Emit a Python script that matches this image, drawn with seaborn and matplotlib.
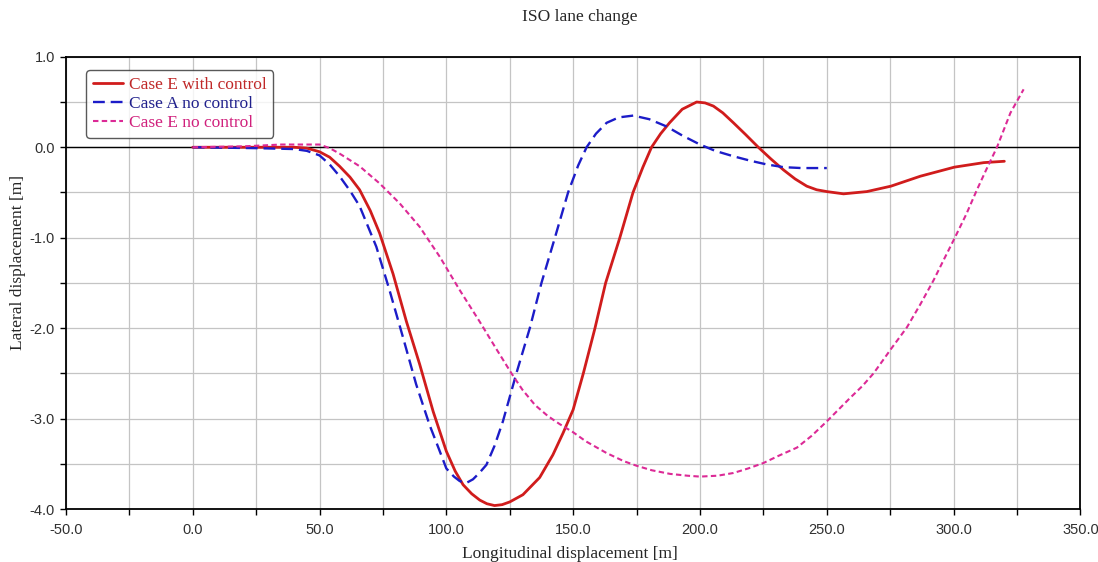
import matplotlib
matplotlib.use("Agg")
import matplotlib.pyplot as plt
import seaborn as sns
from matplotlib.ticker import MultipleLocator, FormatStrFormatter

# ---- data ----
red_x = [0, 20, 40, 45, 50, 54, 57.9, 62, 65.8, 70, 73.7, 79, 84.2, 89.5, 94.8, 100,
         103.5, 106.6, 110, 113.2, 116, 119, 122, 125, 130.2, 136.8, 142, 146, 150,
         154, 158.6, 162.8, 168.4, 173.6, 177.5, 180.9, 184.5, 188, 193, 198.7, 202,
         205.3, 209, 213.2, 218, 223, 228, 232.9, 237.5, 242.1, 246, 250, 256.6,
         265.8, 275.3, 286.9, 300.3, 311.9, 320]
red_y = [0, 0, 0, -0.01, -0.05, -0.11, -0.21, -0.33, -0.47, -0.7, -0.95, -1.4, -1.92,
         -2.4, -2.92, -3.36, -3.58, -3.73, -3.83, -3.9, -3.94, -3.96, -3.95, -3.92,
         -3.84, -3.65, -3.4, -3.16, -2.9, -2.5, -2.0, -1.5, -1.0, -0.5, -0.22, 0.0,
         0.15, 0.27, 0.42, 0.5, 0.49, 0.455, 0.38, 0.27, 0.14, 0.0, -0.13, -0.25,
         -0.35, -0.43, -0.47, -0.49, -0.515, -0.49, -0.43, -0.32, -0.22, -0.17, -0.155]

blue_x = [0, 25, 40, 45, 50, 54, 57.9, 62, 65.8, 72.4, 77.6, 82.9, 88.1, 93.4, 97, 100,
          103, 105.3, 107.9, 110.5, 113, 115.8, 119, 122.3, 127.6, 132.9, 137.5,
          142.8, 148, 152, 155.3, 159, 163.2, 168, 173.7, 180, 186.8, 193, 200, 206,
          213.2, 220, 226.3, 232.9, 240, 250]
blue_y = [0, -0.01, -0.02, -0.04, -0.09, -0.19, -0.32, -0.48, -0.65, -1.1, -1.58, -2.1,
          -2.62, -3.07, -3.33, -3.55, -3.64, -3.69, -3.71, -3.67, -3.6, -3.51, -3.3,
          -3.03, -2.5, -2.0, -1.5, -1.0, -0.5, -0.2, 0.0, 0.15, 0.27, 0.33, 0.35,
          0.31, 0.23, 0.13, 0.03, -0.04, -0.1, -0.15, -0.19, -0.22, -0.23, -0.23]

pink_x = [0, 20, 35, 50, 54, 57.9, 65.8, 73.7, 81.6, 89.5, 97.4, 105.3, 113.2, 119.5,
          125.7, 130, 135, 140, 144.7, 150, 155, 163.2, 170, 175, 181, 188.2, 195,
          200, 207, 213.2, 219, 225, 231, 238.2, 244, 250, 259.2, 264, 268.4, 272,
          275.3, 281.6, 287, 292.1, 296, 300.3, 305, 309.2, 313, 317.1, 322.4, 327.6]
pink_y = [0, 0.01, 0.03, 0.03, -0.01, -0.07, -0.21, -0.4, -0.62, -0.88, -1.21, -1.58,
          -1.93, -2.22, -2.5, -2.68, -2.85, -2.97, -3.06, -3.15, -3.25, -3.38, -3.47,
          -3.52, -3.57, -3.61, -3.63, -3.64, -3.63, -3.6, -3.55, -3.49, -3.41, -3.32,
          -3.19, -3.03, -2.77, -2.64, -2.5, -2.36, -2.23, -1.99, -1.73, -1.47, -1.25,
          -1.01, -0.74, -0.47, -0.24, 0.0, 0.38, 0.64]

labels = ["Case E with control", "Case A no control", "Case E no control"]
colors = ["#d01c1c", "#1c1cc8", "#dc2a96"]
text_colors = ["#c02828", "#20208c", "#d0207c"]

# ---- style ----
sns.set_style("white")
plt.rcParams["font.family"] = ["Liberation Sans", "DejaVu Sans"]

fig = plt.figure(figsize=(10.98, 5.62), dpi=100)
ax = fig.add_axes([0.060, 0.094, 0.924, 0.805])

sns.lineplot(x=red_x, y=red_y, ax=ax, color=colors[0], lw=2.0, sort=False,
             estimator=None, label=labels[0])
sns.lineplot(x=blue_x, y=blue_y, ax=ax, color=colors[1], lw=1.7, sort=False,
             estimator=None, label=labels[1], linestyle=(0, (5, 2.5)))
sns.lineplot(x=pink_x, y=pink_y, ax=ax, color=colors[2], lw=1.5, sort=False,
             estimator=None, label=labels[2], linestyle=(0, (2.6, 1.6)))

ax.axhline(0, color="black", lw=1.0, zorder=1)

ax.set_xlim(-50, 350)
ax.set_ylim(-4, 1)
ax.xaxis.set_major_locator(MultipleLocator(50))
ax.xaxis.set_minor_locator(MultipleLocator(25))
ax.yaxis.set_major_locator(MultipleLocator(1))
ax.yaxis.set_minor_locator(MultipleLocator(0.5))
ax.xaxis.set_major_formatter(FormatStrFormatter("%.1f"))
ax.yaxis.set_major_formatter(FormatStrFormatter("%.1f"))
ax.grid(True, which="both", color="#c4c4c4", lw=0.9, zorder=0)
ax.set_axisbelow(True)
ax.tick_params(which="both", direction="out", length=4, width=1, color="black",
               left=True, bottom=True, labelsize=10.5, labelcolor="#303030")
ax.tick_params(axis="x", which="major", pad=6)
ax.tick_params(axis="y", which="major", pad=4)
for s in ax.spines.values():
    s.set_color("black")
    s.set_linewidth(1.3)

serif = ["Liberation Serif", "DejaVu Serif"]
ax.set_xlabel("Longitudinal displacement [m]", family=serif, fontsize=12.5, va="center")
ax.xaxis.set_label_coords(0.497, -0.098)
ax.set_ylabel("Lateral displacement [m]", family=serif, fontsize=12.5, va="center")
ax.yaxis.set_label_coords(-0.047, 0.545)
fig.text(0.528, 0.970, "ISO lane change", family=serif, fontsize=12.5,
         ha="center", va="center")

leg = ax.legend(loc="upper left", bbox_to_anchor=(0.02, 0.97), borderaxespad=0,
                prop={"family": serif, "size": 12.5}, frameon=True, fancybox=True,
                edgecolor="#303030", handlelength=1.75, handletextpad=0.3,
                labelspacing=0.15, borderpad=0.4)
leg.get_frame().set_linewidth(1.0)
for t, c in zip(leg.get_texts(), text_colors):
    t.set_color(c)

fig.savefig("out.png", dpi=100)
